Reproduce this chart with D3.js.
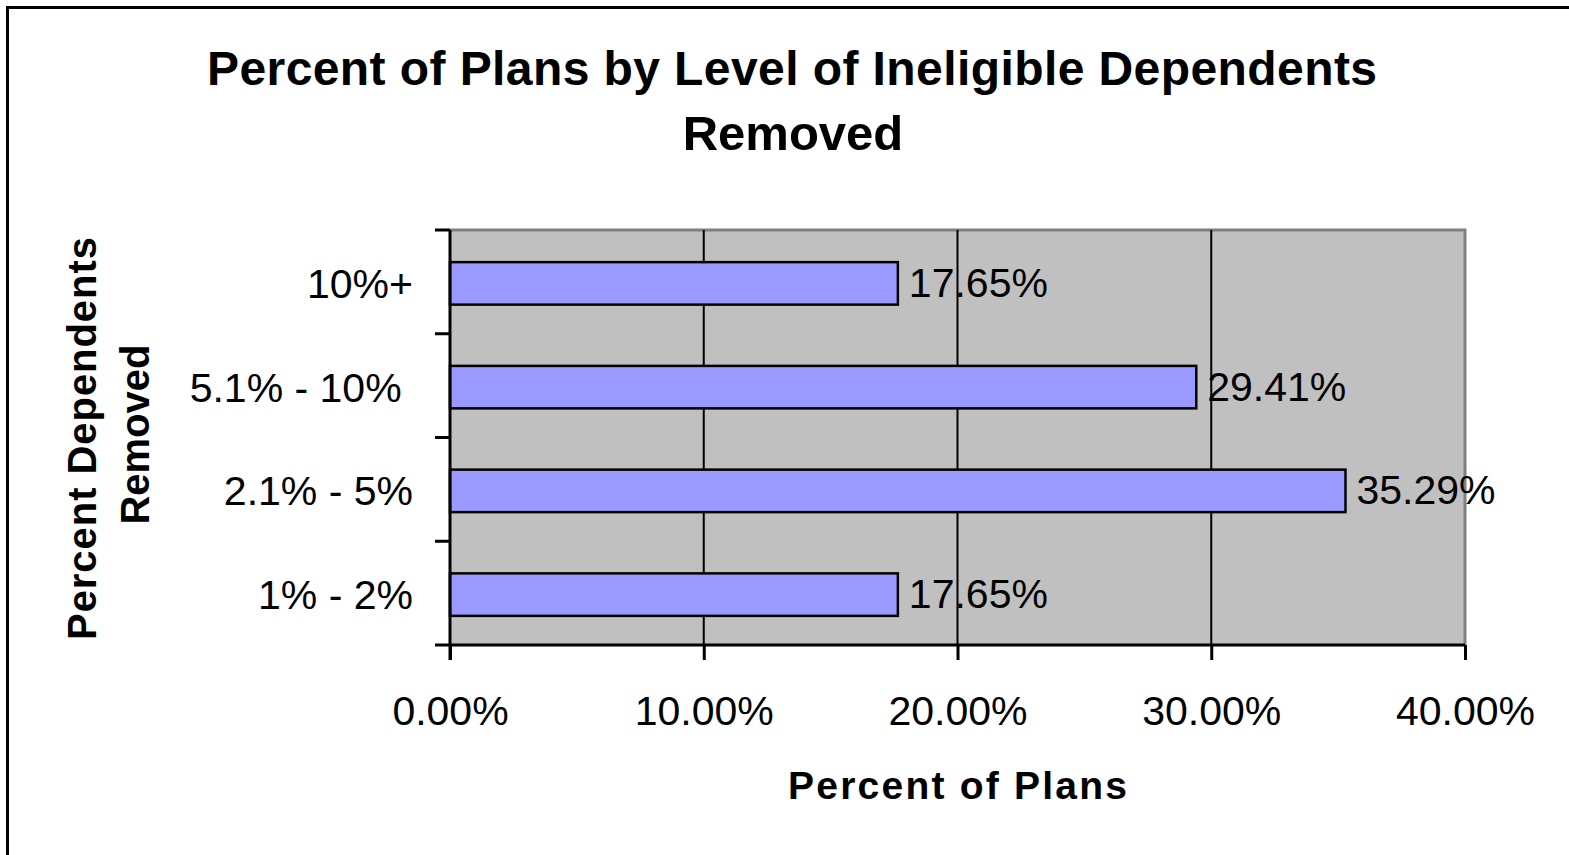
<!DOCTYPE html>
<html>
<head>
<meta charset="utf-8">
<script src="https://cdn.jsdelivr.net/npm/d3@7"></script>
<style>
  html, body { margin: 0; padding: 0; background: #fff; }
  svg { display: block; }
  text { font-family: "Liberation Sans", Arial, sans-serif; fill: #000; }
</style>
</head>
<body>
<svg id="chart" width="1569" height="855"></svg>
<script>
// ---- data ----
const categories = ["10%+", "5.1% - 10% ", "2.1% - 5%", "1% - 2%"];
const values = [0.1765, 0.2941, 0.3529, 0.1765];
const valueLabels = ["17.65%", "29.41%", "35.29%", "17.65%"];
const xTicks = [0, 0.1, 0.2, 0.3, 0.4];
const titleLines = ["Percent of Plans by Level of Ineligible Dependents", "Removed"];
const xTitle = "Percent of Plans";
const yTitleLines = ["Percent Dependents", "Removed"];

// ---- layout ----
const W = 1569, H = 855;
const plot = { left: 450, right: 1465, top: 230, bottom: 645 };
const svg = d3.select("#chart");

// outer frame
svg.append("rect")
  .attr("x", 7.5).attr("y", 7.5)
  .attr("width", W + 20).attr("height", H + 20)
  .attr("fill", "#fff").attr("stroke", "#000").attr("stroke-width", 3);

const x = d3.scaleLinear().domain([0, 0.4]).range([plot.left, plot.right]);
const y = d3.scaleBand().domain(categories).range([plot.top, plot.bottom])
  .paddingInner(0.6).paddingOuter(0.3);

// plot background
svg.append("rect")
  .attr("x", plot.left).attr("y", plot.top)
  .attr("width", plot.right - plot.left).attr("height", plot.bottom - plot.top)
  .attr("fill", "#C0C0C0");

// top & right gray border
svg.append("path")
  .attr("d", `M${plot.left},${plot.top}H${plot.right}V${plot.bottom}`)
  .attr("fill", "none").attr("stroke", "#808080").attr("stroke-width", 3);

// gridlines
svg.append("g").selectAll("line")
  .data(xTicks.filter(t => t > 0 && t < 0.4))
  .join("line")
  .attr("x1", d => x(d)).attr("x2", d => x(d))
  .attr("y1", plot.top).attr("y2", plot.bottom)
  .attr("stroke", "#000").attr("stroke-width", 2);

// bars
svg.append("g").selectAll("rect")
  .data(categories)
  .join("rect")
  .attr("x", x(0))
  .attr("y", d => y(d) + 1)
  .attr("width", (d, i) => x(values[i]) - x(0))
  .attr("height", y.bandwidth() + 1)
  .attr("fill", "#9999FF")
  .attr("stroke", "#000").attr("stroke-width", 2.5);

// value labels
svg.append("g").selectAll("text")
  .data(categories)
  .join("text")
  .attr("x", (d, i) => x(values[i]) + 11)
  .attr("y", d => y(d) + y.bandwidth() / 2 + 15)
  .attr("font-size", 41)
  .text((d, i) => valueLabels[i]);

// x axis
const xAxis = d3.axisBottom(x).tickValues(xTicks).tickFormat(d3.format(".2%"))
  .tickSizeInner(15).tickSizeOuter(0).tickPadding(0);
const gx = svg.append("g").attr("transform", `translate(0,${plot.bottom})`).call(xAxis);
gx.select(".domain").attr("stroke", "#000").attr("stroke-width", 3)
  .attr("d", `M${plot.left - 15},0H${plot.right}`);
gx.selectAll(".tick line").attr("stroke", "#000").attr("stroke-width", 3);
gx.selectAll(".tick text")
  .attr("font-size", 41).attr("font-family", "Liberation Sans, Arial, sans-serif")
  .attr("fill", "#000").attr("dy", null).attr("y", 80);

// y axis (ticks at band boundaries)
const boundaries = categories.map(c => y(c) - y.step() * y.paddingInner() / 2);
boundaries.push(plot.bottom);
svg.append("line")
  .attr("x1", plot.left).attr("x2", plot.left)
  .attr("y1", plot.top).attr("y2", plot.bottom + 15)
  .attr("stroke", "#000").attr("stroke-width", 3);
svg.append("g").selectAll("line")
  .data([plot.top].concat(boundaries.slice(1, 4)))
  .join("line")
  .attr("x1", plot.left - 15).attr("x2", plot.left)
  .attr("y1", d => d).attr("y2", d => d)
  .attr("stroke", "#000").attr("stroke-width", 3);

// category labels
svg.append("g").selectAll("text")
  .data(categories)
  .join("text")
  .attr("x", 413)
  .attr("y", d => y(d) + y.bandwidth() / 2 + 16)
  .attr("text-anchor", "end")
  .attr("font-size", 41)
  .style("white-space", "pre")
  .text(d => d);

// title
svg.append("text")
  .attr("x", 792).attr("y", 85)
  .attr("text-anchor", "middle").attr("font-size", 48).attr("font-weight", "bold")
  .attr("textLength", 1170).attr("lengthAdjust", "spacing")
  .text(titleLines[0]);
svg.append("text")
  .attr("x", 793).attr("y", 150)
  .attr("text-anchor", "middle").attr("font-size", 49).attr("font-weight", "bold")
  .text(titleLines[1]);

// x title
svg.append("text")
  .attr("x", (plot.left + plot.right) / 2).attr("y", 799)
  .attr("text-anchor", "middle").attr("font-size", 39).attr("font-weight", "bold")
  .attr("textLength", 339).attr("lengthAdjust", "spacing")
  .text(xTitle);

// y title
const cy = (plot.top + plot.bottom) / 2;
svg.append("text")
  .attr("transform", `translate(96,${cy + 1}) rotate(-90)`)
  .attr("text-anchor", "middle").attr("font-size", 40).attr("font-weight", "bold")
  .attr("textLength", 403).attr("lengthAdjust", "spacing")
  .text(yTitleLines[0]);
svg.append("text")
  .attr("transform", `translate(149,${cy - 3}) rotate(-90)`)
  .attr("text-anchor", "middle").attr("font-size", 40).attr("font-weight", "bold")
  .text(yTitleLines[1]);
</script>
</body>
</html>
